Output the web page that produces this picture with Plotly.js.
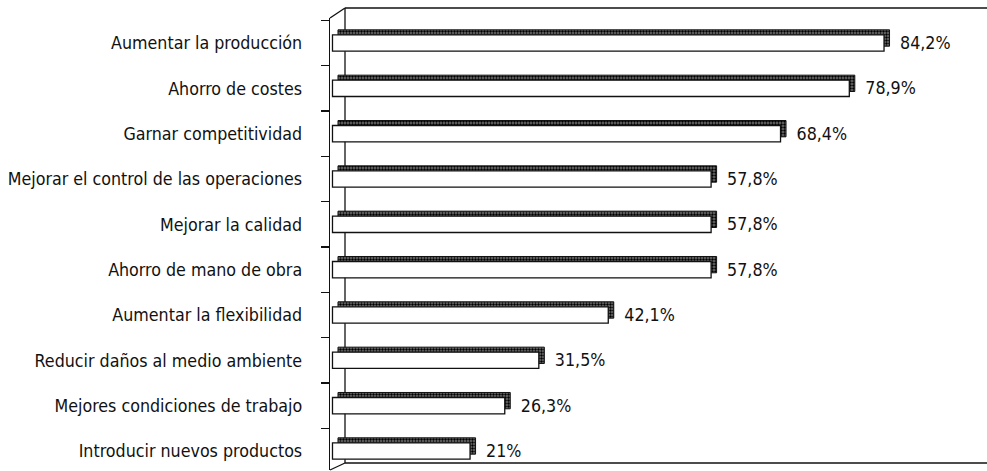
<!DOCTYPE html>
<html><head><meta charset="utf-8">
<script src="https://cdn.plot.ly/plotly-3.0.1.min.js"></script>
<style>html,body{margin:0;padding:0;background:#fff}</style>
</head><body><div id="chart" style="width:987px;height:471px"></div>
<script>
const categories = [
  "Aumentar la producción",
  "Ahorro de costes",
  "Garnar competitividad",
  "Mejorar el control de las operaciones",
  "Mejorar la calidad",
  "Ahorro de mano de obra",
  "Aumentar la flexibilidad",
  "Reducir daños al medio ambiente",
  "Mejores condiciones de trabajo",
  "Introducir nuevos productos"
];
const values = [84.2, 78.9, 68.4, 57.8, 57.8, 57.8, 42.1, 31.5, 26.3, 21];
const valueLabels = ["84,2%", "78,9%", "68,4%", "57,8%", "57,8%", "57,8%", "42,1%", "31,5%", "26,3%", "21%"];

const W = 987, H = 471;
const font = "'DejaVu Sans Condensed', 'Liberation Sans Narrow', sans-serif";
const pxPerUnit = 6.55;
const xr = [-0.38, 98.5];
const yr = [9.4197, -0.5515];
const dX = 5.5 / pxPerUnit, dY = 5 / 45.33, tX = 13 / pxPerUnit;

const depth = {
  type: 'bar', orientation: 'h', x: values, y: categories, xaxis: 'x', yaxis: 'y',
  width: 0.36, hoverinfo: 'skip',
  marker: {color: '#555', line: {color: '#111', width: 1},
    pattern: {shape: '.', fgcolor: '#000', bgcolor: '#777', size: 3, solidity: 0.5}}
};
const front = {
  type: 'bar', orientation: 'h', x: values, y: categories, xaxis: 'x2', yaxis: 'y2',
  width: 0.36, hoverinfo: 'skip',
  marker: {color: '#ffffff', line: {color: '#111', width: 1.3}}
};
const labels = {
  type: 'bar', orientation: 'h', x: values, y: categories, xaxis: 'x3', yaxis: 'y2',
  width: 0.36, hoverinfo: 'skip', text: valueLabels, textposition: 'outside',
  cliponaxis: false, constraintext: 'none',
  textfont: {family: font, size: 17.7, color: '#111'},
  marker: {color: 'rgba(0,0,0,0)', line: {width: 0}}
};

const yd = [1 - 470 / H, 1 - 18 / H];
const xd = [330 / W, 977.7 / W];
const P = (px) => px / W, Q = (py) => 1 - py / H;
const line = (x0, y0, x1, y1) => ({type: 'line', xref: 'paper', yref: 'paper', layer: 'below',
  x0: P(x0), y0: Q(y0), x1: P(x1), y1: Q(y1), line: {color: '#111', width: 1.3}});

const hiddenX = {showgrid: false, zeroline: false, showticklabels: false, ticks: '', showline: false};
const layout = {
  width: W, height: H, margin: {l: 0, r: 0, t: 0, b: 0},
  paper_bgcolor: '#fff', plot_bgcolor: 'rgba(0,0,0,0)', showlegend: false, barmode: 'overlay',
  xaxis: Object.assign({domain: xd, range: [xr[0] - dX, xr[1] - dX], anchor: 'y'}, hiddenX),
  xaxis2: Object.assign({overlaying: 'x', range: xr, anchor: 'y2'}, hiddenX),
  xaxis3: Object.assign({overlaying: 'x', range: [xr[0] - tX, xr[1] - tX], anchor: 'y2'}, hiddenX),
  yaxis: {domain: yd, range: [yr[0] + dY, yr[1] + dY], type: 'category',
    categoryorder: 'array', categoryarray: categories,
    showgrid: false, zeroline: false, showticklabels: false, ticks: '', showline: false, anchor: 'x'},
  yaxis2: {overlaying: 'y', range: yr, type: 'category', categoryorder: 'array', categoryarray: categories,
    anchor: 'x2', side: 'left', showgrid: false, zeroline: false,
    showline: true, linecolor: '#111', linewidth: 1.3,
    ticks: 'outside', tickson: 'boundaries', ticklen: 8, tickwidth: 1.3, tickcolor: '#111',
    ticklabelstandoff: 23,
    tickfont: {family: font, size: 17.7, color: '#111'}},
  shapes: [
    line(345, 8, 345, 463),
    line(345, 8, 987, 8),
    line(345, 463, 987, 463),
    line(330, 18, 345, 8),
    line(330, 470, 345, 463)
  ]
};
Plotly.newPlot('chart', [depth, front, labels], layout, {staticPlot: true, displayModeBar: false});
</script></body></html>
